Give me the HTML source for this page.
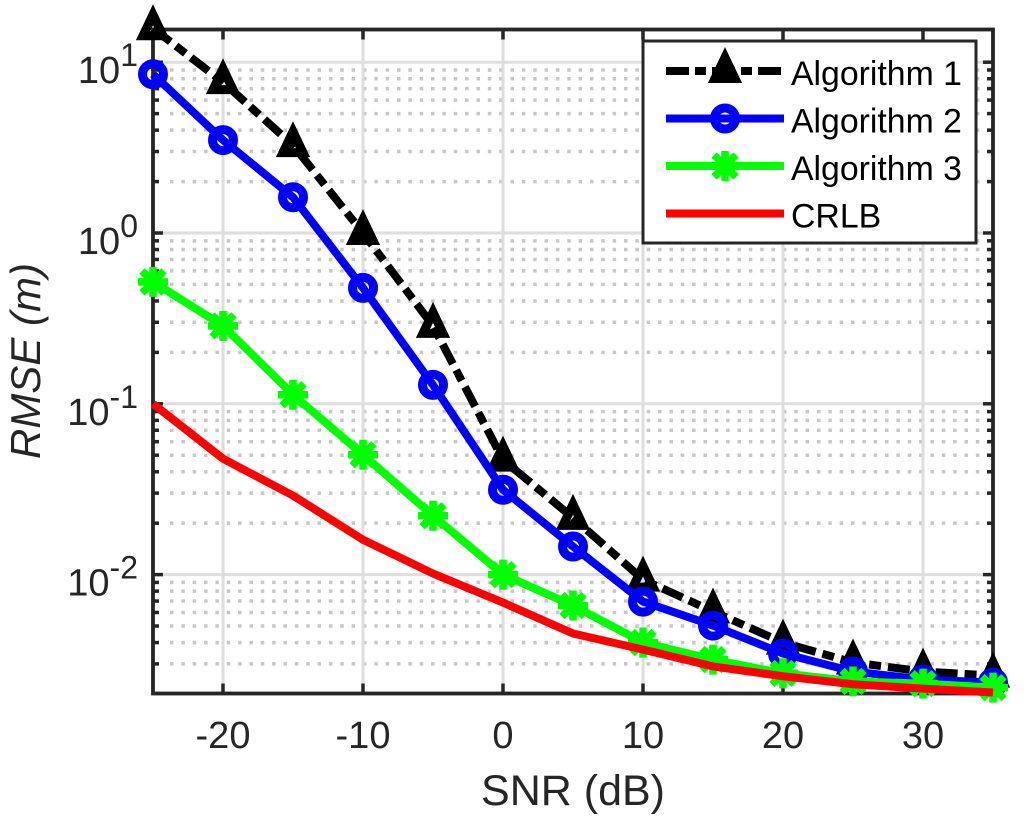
<!DOCTYPE html>
<html lang="en">
<head>
<meta charset="utf-8">
<title>RMSE vs SNR</title>
<style>
html,body{margin:0;padding:0;background:#fff;width:1024px;height:827px;overflow:hidden}
svg{display:block;font-family:"Liberation Sans",Arial,sans-serif;filter:blur(0.3px)}
</style>
</head>
<body>
<svg id="chart" width="1024" height="827" viewBox="0 0 1024 827"></svg>
<script>
const snrValues = [-25,-20,-15,-10,-5,0,5,10,15,20,25,30,35];
const algorithm1 = [15.8,7.64,3.27,1.0,0.286,0.0471,0.0215,0.00935,0.00608,0.0040,0.00306,0.00271,0.00256];
const algorithm2 = [8.5,3.5,1.62,0.477,0.129,0.0314,0.0146,0.00695,0.00503,0.00345,0.00271,0.00243,0.00233];
const algorithm3 = [0.517,0.286,0.113,0.0503,0.0221,0.01,0.00659,0.0040,0.00318,0.00264,0.00237,0.0023,0.00218];
const crlb = [0.1,0.0477,0.029,0.016,0.01014,0.00686,0.00452,0.00364,0.0029,0.00254,0.00228,0.00215,0.00204];
const xTickValues = [-20,-10,0,10,20,30];
const yTickExponents = [1,0,-1,-2];
const legendLabels = ["Algorithm 1","Algorithm 2","Algorithm 3","CRLB"];

const NS = "http://www.w3.org/2000/svg";
const svg = document.getElementById("chart");
const L = 153, R = 993, T = 29.5, B = 693.5;
const X_MIN = -25, X_MAX = 35;
const Y_ONE = 233, DECADE = 170.8;
const AXIS = "#262626";

function x(v){ return L + (v - X_MIN) * (R - L) / (X_MAX - X_MIN); }
function y(v){ return Y_ONE - DECADE * Math.log10(v); }

function make(tag, attrs, parent){
  const el = document.createElementNS(NS, tag);
  for (const k in attrs) el.setAttribute(k, attrs[k]);
  (parent || svg).appendChild(el);
  return el;
}
function group(name){
  const g = make("g", {});
  
  
  return g;
}

/* grid */
const gridGroup = group('grid');
for (let e = 1; e >= -3; e--) {
  for (let m = 2; m <= 9; m++) {
    const v = m * Math.pow(10, e);
    const py = y(v);
    if (py <= T || py >= B - 3) continue;
    const minor = make("line", {x1:L+17,x2:R,y1:py,y2:py,stroke:"#c8c8c8","stroke-width":3.5,"stroke-dasharray":"3.5 7.85"}, gridGroup);
    
    
  }
}
yTickExponents.forEach(function(e){
  const py = y(Math.pow(10, e));
  const major = make("line", {x1:L,x2:R,y1:py,y2:py,stroke:"#dedede","stroke-width":3}, gridGroup);
  
  
});
xTickValues.forEach(function(v){
  const major = make("line", {x1:x(v),x2:x(v),y1:T,y2:B,stroke:"#dedede","stroke-width":3}, gridGroup);
  
  
});

/* axes box and ticks */
const axesGroup = group('axes');
const box = make("rect", {x:L,y:T,width:R-L,height:B-T,fill:"none",stroke:AXIS,"stroke-width":3.8}, axesGroup);


xTickValues.forEach(function(v){
  const px = x(v);
  const t1 = make("line", {x1:px,x2:px,y1:B,y2:B-10,stroke:AXIS,"stroke-width":3.5}, axesGroup);
  
  
  const t2 = make("line", {x1:px,x2:px,y1:T,y2:T+10,stroke:AXIS,"stroke-width":3.5}, axesGroup);
  
  
  const lab = make("text", {x:px,y:748,"text-anchor":"middle","font-size":38,fill:AXIS}, axesGroup);
  lab.textContent = String(v);
  
  
});
for (let e = 1; e >= -3; e--) {
  for (let m = 1; m <= 9; m++) {
    const py = y(m * Math.pow(10, e));
    if (py <= T || py >= B - 3) continue;
    const len = m === 1 ? 10 : 6;
    const t1 = make("line", {x1:L,x2:L+len,y1:py,y2:py,stroke:AXIS,"stroke-width":3.5}, axesGroup);
    
    
    const t2 = make("line", {x1:R,x2:R-len,y1:py,y2:py,stroke:AXIS,"stroke-width":3.5}, axesGroup);
    
    
  }
}
yTickExponents.forEach(function(e){
  const py = y(Math.pow(10, e));
  const lab = make("text", {x:138,y:py+21,"text-anchor":"end","font-size":38,fill:AXIS}, axesGroup);
  
  
  const base = make("tspan", {}, lab);
  base.textContent = "10";
  const sup = make("tspan", {dy:-17,"font-size":32}, lab);
  sup.textContent = String(e);
});

const xTitle = make("text", {x:573,y:805,"text-anchor":"middle","font-size":43,fill:AXIS});
xTitle.textContent = "SNR (dB)";



const yTitle = make("text", {x:0,y:0,transform:"translate(40,361) rotate(-90)","text-anchor":"middle","font-size":42,"font-style":"italic",fill:AXIS});
yTitle.textContent = "RMSE (m)";



/* markers */
function triangle(parent, cx, cy, color){
  make("path", {d:"M"+cx+" "+(cy-13.5)+"L"+(cx+10)+" "+(cy+7.5)+"L"+(cx-10)+" "+(cy+7.5)+"Z",fill:"none",stroke:color,"stroke-width":9,"stroke-linejoin":"miter"}, parent);
}
function circle(parent, cx, cy, color){
  make("circle", {cx:cx,cy:cy,r:10.5,fill:"none",stroke:color,"stroke-width":9}, parent);
}
function asterisk(parent, cx, cy, color){
  const r = 15, d = 11;
  make("path", {d:"M"+cx+" "+(cy-r)+"V"+(cy+r)+"M"+(cx-r)+" "+cy+"H"+(cx+r)+"M"+(cx-d)+" "+(cy-d)+"L"+(cx+d)+" "+(cy+d)+"M"+(cx-d)+" "+(cy+d)+"L"+(cx+d)+" "+(cy-d),fill:"none",stroke:color,"stroke-width":7.5}, parent);
}

/* series */
function drawSeries(name, values, color, dash, marker){
  const g = group(name);
  const pts = values.map(function(v, i){ return x(snrValues[i]) + "," + y(v); }).join(" ");
  const attrs = {points:pts,fill:"none",stroke:color,"stroke-width":8,"stroke-linejoin":"round"};
  if (dash) attrs["stroke-dasharray"] = dash;
  const line = make("polyline", attrs, g);
  
  
  if (marker) values.forEach(function(v, i){ marker(g, x(snrValues[i]), y(v), color); });
}
drawSeries('series-algorithm-1', algorithm1, "#000000", "22 7 12 7", triangle);
drawSeries('series-algorithm-2', algorithm2, "#0000ff", null, circle);
drawSeries('series-algorithm-3', algorithm3, "#00ff00", null, asterisk);
drawSeries('series-crlb', crlb, "#ff0000", null, null);

/* legend */
const legendGroup = group('legend');
const legendBox = make("rect", {x:643,y:41,width:333,height:202,fill:"#ffffff",stroke:AXIS,"stroke-width":3}, legendGroup);


const legendColors = ["#000000","#0000ff","#00ff00","#ff0000"];
const legendMarkers = [triangle, circle, asterisk, null];
const legendDashes = ["23 6 11 6", null, null, null];
legendLabels.forEach(function(label, i){
  const rowY = 71 + i * 47.5;
  const entry = make("g", {}, legendGroup);
  
  
  const a = {x1:666,x2:784,y1:rowY,y2:rowY,stroke:legendColors[i],"stroke-width":8};
  if (legendDashes[i]) a["stroke-dasharray"] = legendDashes[i];
  make("line", a, entry);
  if (legendMarkers[i]) legendMarkers[i](entry, 725, rowY, legendColors[i]);
  const t = make("text", {x:791,y:rowY+14,"font-size":33.8,fill:"#000"}, entry);
  t.textContent = label;
});
</script>
</body>
</html>
